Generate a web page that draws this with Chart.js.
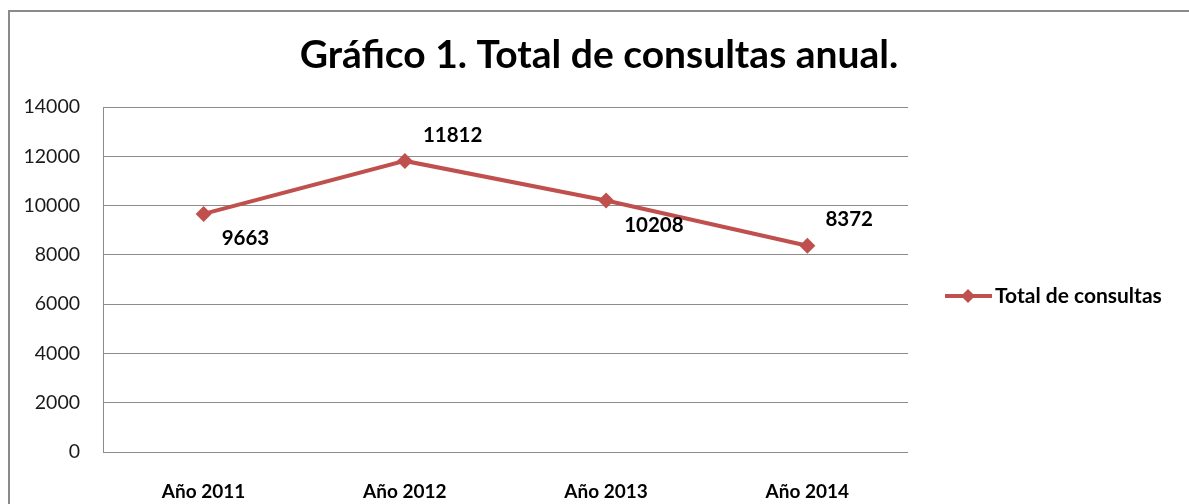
<!DOCTYPE html>
<html><head><meta charset="utf-8">
<script src="https://cdn.jsdelivr.net/npm/chart.js@4/dist/chart.umd.min.js"></script>
<style>html,body{margin:0;padding:0;background:#fff;overflow:hidden}</style>
</head><body>
<canvas id="c" width="1189" height="504"></canvas>
<script>
const categories = ['Año 2011', 'Año 2012', 'Año 2013', 'Año 2014'];
const seriesName = 'Total de consultas';
const totalConsultas = [9663, 11812, 10208, 8372];
const yTickValues = [0, 2000, 4000, 6000, 8000, 10000, 12000, 14000];
const titleText = 'Gráfico 1. Total de consultas anual.';
const labelSide = ['below', 'above', 'below', 'above'];

const RED = '#C0504D';
const FONT = 'Lato, "Open Sans", sans-serif';

const framePlugin = {
  id: 'frame',
  beforeDraw(chart) {
    const ctx = chart.ctx;
    ctx.save();
    ctx.fillStyle = '#fff';
    ctx.fillRect(0, 0, chart.width, chart.height);
    ctx.strokeStyle = '#8a8a8a';
    ctx.lineWidth = 2;
    ctx.beginPath();
    ctx.moveTo(9, chart.height);
    ctx.lineTo(9, 11);
    ctx.lineTo(chart.width, 11);
    ctx.stroke();
    ctx.fillStyle = '#000';
    ctx.font = 'bold 39px ' + FONT;
    ctx.textAlign = 'center';
    ctx.textBaseline = 'alphabetic';
    ctx.fillText(titleText, 599, 68);
    ctx.restore();
  }
};

const labelsPlugin = {
  id: 'pointLabels',
  afterDatasetsDraw(chart) {
    const ctx = chart.ctx;
    const meta = chart.getDatasetMeta(0);
    ctx.save();
    ctx.fillStyle = '#000';
    ctx.font = 'bold 20.5px ' + FONT;
    ctx.textAlign = 'left';
    ctx.textBaseline = 'middle';
    meta.data.forEach((pt, i) => {
      const dy = labelSide[i] === 'below' ? 25 : -26;
      ctx.fillText(String(totalConsultas[i]), pt.x + 18, pt.y + dy);
    });
    ctx.restore();
  }
};

const legendPlugin = {
  id: 'customLegend',
  afterDraw(chart) {
    const ctx = chart.ctx;
    const y = 296;
    ctx.save();
    ctx.strokeStyle = RED;
    ctx.lineWidth = 4;
    ctx.beginPath();
    ctx.moveTo(945, y);
    ctx.lineTo(992, y);
    ctx.stroke();
    ctx.fillStyle = RED;
    ctx.beginPath();
    ctx.moveTo(968, y - 7);
    ctx.lineTo(975, y);
    ctx.lineTo(968, y + 7);
    ctx.lineTo(961, y);
    ctx.closePath();
    ctx.fill();
    ctx.fillStyle = '#000';
    ctx.font = 'bold 21px ' + FONT;
    ctx.textAlign = 'left';
    ctx.textBaseline = 'middle';
    ctx.fillText(seriesName, 995, y);
    ctx.restore();
  }
};

new Chart(document.getElementById('c'), {
  type: 'line',
  data: {
    labels: categories,
    datasets: [{
      label: seriesName,
      data: totalConsultas,
      borderColor: RED,
      backgroundColor: RED,
      borderWidth: 4,
      pointStyle: 'rectRot',
      pointRadius: 8,
      pointBorderWidth: 0,
      pointBackgroundColor: RED,
      tension: 0
    }]
  },
  options: {
    responsive: false,
    devicePixelRatio: 1,
    animation: false,
    layout: { padding: { top: 107, right: 281, left: 0, bottom: 0 } },
    plugins: { legend: { display: false }, title: { display: false }, tooltip: { enabled: false } },
    scales: {
      x: {
        offset: true,
        grid: { display: false },
        border: { display: false },
        ticks: { color: '#000', font: { family: FONT, size: 19, weight: 'bold' }, padding: 20 },
        afterFit(s) { s.height = 52; }
      },
      y: {
        min: 0, max: 14000,
        afterBuildTicks(s) { s.ticks = yTickValues.map(v => ({ value: v })); },
        grid: { color: '#8c8c8c', lineWidth: 1, drawTicks: false },
        border: { display: true, color: '#8c8c8c', width: 1 },
        ticks: { color: '#1a1a1a', font: { family: FONT, size: 19.5 }, padding: 23, callback: v => String(v) },
        afterFit(s) { s.width = 103; }
      }
    }
  },
  plugins: [framePlugin, labelsPlugin, legendPlugin]
});
</script>
</body></html>
